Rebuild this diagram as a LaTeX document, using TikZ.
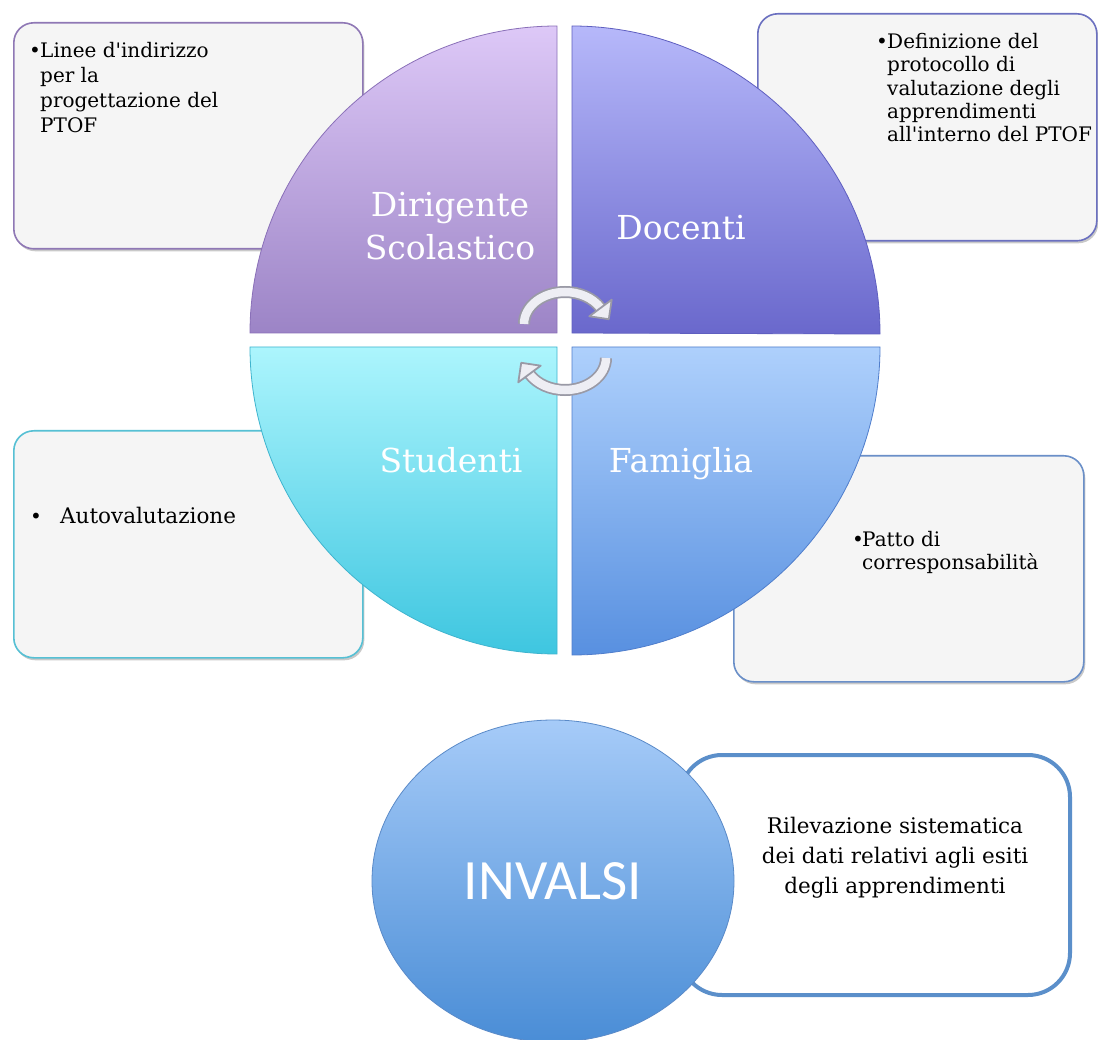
\documentclass[tikz,border=0pt]{standalone}
\usepackage{fontspec}
\setmainfont{DejaVu Serif}
\newfontfamily\carlito{Carlito}
\usetikzlibrary{shapes.geometric,shadows}
\definecolor{boxfill}{HTML}{F5F5F5}
\definecolor{tlTop}{HTML}{DDC8F7}\definecolor{tlBot}{HTML}{9C84C6}\definecolor{tlLine}{HTML}{8A70B8}
\definecolor{trTop}{HTML}{B6B8FA}\definecolor{trBot}{HTML}{6A68CC}\definecolor{trLine}{HTML}{5F5FC0}
\definecolor{blTop}{HTML}{ACF5FD}\definecolor{blBot}{HTML}{3EC6E0}\definecolor{blLine}{HTML}{3FB4CE}
\definecolor{brTop}{HTML}{AED0FC}\definecolor{brBot}{HTML}{5890E0}\definecolor{brLine}{HTML}{507ECC}
\definecolor{tlBox}{HTML}{8F78B5}\definecolor{trBox}{HTML}{6B70C0}\definecolor{blBox}{HTML}{56C0D4}\definecolor{brBox}{HTML}{6A8FC8}
\definecolor{invTop}{HTML}{A6CBF8}\definecolor{invBot}{HTML}{4A8DD6}\definecolor{invLine}{HTML}{5A8AC8}
\definecolor{invBox}{HTML}{5B8FCA}
\definecolor{arrOut}{HTML}{9A9AA6}\definecolor{arrIn}{HTML}{EEEEF4}
\begin{document}
\begin{tikzpicture}[x=1pt,y=1pt,
  infobox/.style={rectangle, rounded corners=20pt, fill=boxfill, line width=1.6pt, anchor=north west,
    drop shadow={shadow xshift=1.5pt, shadow yshift=-2.5pt, opacity=0.35, fill=black!60}},
  boxtext/.style={anchor=north west, align=left, font=\fontsize{20}{24.5}\selectfont, inner sep=0pt},
  quadlabel/.style={text=white, align=center, font=\fontsize{33}{43}\selectfont},
  shaftout/.style={line width=12pt, arrOut},
  shaftin/.style={line width=8.5pt, arrIn},
  headtip/.style={fill=arrIn, draw=arrOut, line width=1.8pt, line join=round},
]
\useasboundingbox (0,0) rectangle (1098,-1040);
\fill[white] (0,0) rectangle (1098,-1040);

% info boxes
\node[infobox, draw=tlBox, minimum width=349, minimum height=226] (boxTL) at (13,-22) {};
\node[infobox, draw=trBox, minimum width=339, minimum height=227] (boxTR) at (757,-13) {};
\node[infobox, draw=blBox, minimum width=349, minimum height=227] (boxBL) at (13,-430) {};
\node[infobox, draw=brBox, minimum width=350, minimum height=226] (boxBR) at (733,-455) {};

\node[boxtext] (txtTL) at (29,-42) {\makebox[11pt][l]{•}\parbox[t]{210pt}{\baselineskip=25pt Linee d\textquotesingle indirizzo\\per la\\progettazione del\\PTOF}};
\node[boxtext] (txtTR) at (876,-33) {\makebox[11pt][l]{•}\parbox[t]{212pt}{\baselineskip=23.4pt Definizione del\\protocollo di\\valutazione degli\\apprendimenti\\all\textquotesingle interno del PTOF}};
\node[boxtext] (txtBL) at (30,-507) {\makebox[30pt][l]{•}{\fontsize{21.5}{24}\selectfont Autovalutazione}};
\node[boxtext] (txtBR) at (852,-531) {\makebox[10pt][l]{•}\parbox[t]{212pt}{\baselineskip=23.4pt Patto di\\corresponsabilità}};

% quadrants
\shade[top color=tlTop, bottom color=tlBot, draw=tlLine, line width=0.8pt]
  (557,-333) -- ++(-307,0) arc[start angle=180, end angle=90, radius=307] -- cycle;
\shade[top color=trTop, bottom color=trBot, draw=trLine, line width=0.8pt]
  (572,-333) -- ++(0,307) arc[start angle=90, end angle=0, radius=308] -- cycle;
\shade[top color=blTop, bottom color=blBot, draw=blLine, line width=0.8pt]
  (557,-347) -- ++(-307,0) arc[start angle=180, end angle=270, radius=307] -- cycle;
\shade[top color=brTop, bottom color=brBot, draw=brLine, line width=0.8pt]
  (572,-347) -- ++(308,0) arc[start angle=0, end angle=-90, radius=308] -- cycle;

\node[quadlabel] (qDS) at (450,-226) {Dirigente\\Scolastico};
\node[quadlabel, anchor=base] (qDO) at (681,-240) {Docenti};
\node[quadlabel, anchor=base] (qST) at (451,-472) {Studenti};
\node[quadlabel, anchor=base] (qFA) at (681,-472) {Famiglia};

% cycle arrows (upper: clockwise over the top; lower: under the bottom)
\coordinate (aStart) at (524,-324);
\coordinate (aTip) at (608.8,-319.2);
\coordinate (aL) at (611.7,-299.7);
\coordinate (aR) at (589.3,-316.3);
\draw[shaftout] (aStart) arc[start angle=180, end angle=30, x radius=41, y radius=32];
\draw[shaftin] (aStart) arc[start angle=180, end angle=30, x radius=41, y radius=32];
\draw[headtip] (aL) -- (aTip) -- (aR) -- cycle;

\coordinate (bStart) at (606,-358);
\coordinate (bTip) at (521.2,-362.8);
\coordinate (bL) at (540.7,-365.7);
\coordinate (bR) at (518.3,-382.3);
\draw[shaftout] (bStart) arc[start angle=0, end angle=-150, x radius=41, y radius=32];
\draw[shaftin] (bStart) arc[start angle=0, end angle=-150, x radius=41, y radius=32];
\draw[headtip] (bL) -- (bTip) -- (bR) -- cycle;

% INVALSI
\draw[invBox, line width=4pt, fill=white, rounded corners=42pt] (680,-755) rectangle (1070,-995);
\node[ellipse, minimum width=362, minimum height=322, top color=invTop, bottom color=invBot,
  draw=invLine, line width=0.8pt, text=white, font=\carlito\fontsize{57}{60}\selectfont] (inv) at (553,-881) {INVALSI};
\node[align=center, font=\fontsize{21.5}{30}\selectfont] (invTxt) at (895,-858)
  {Rilevazione sistematica\\dei dati relativi agli esiti\\degli apprendimenti};
\end{tikzpicture}
\end{document}
